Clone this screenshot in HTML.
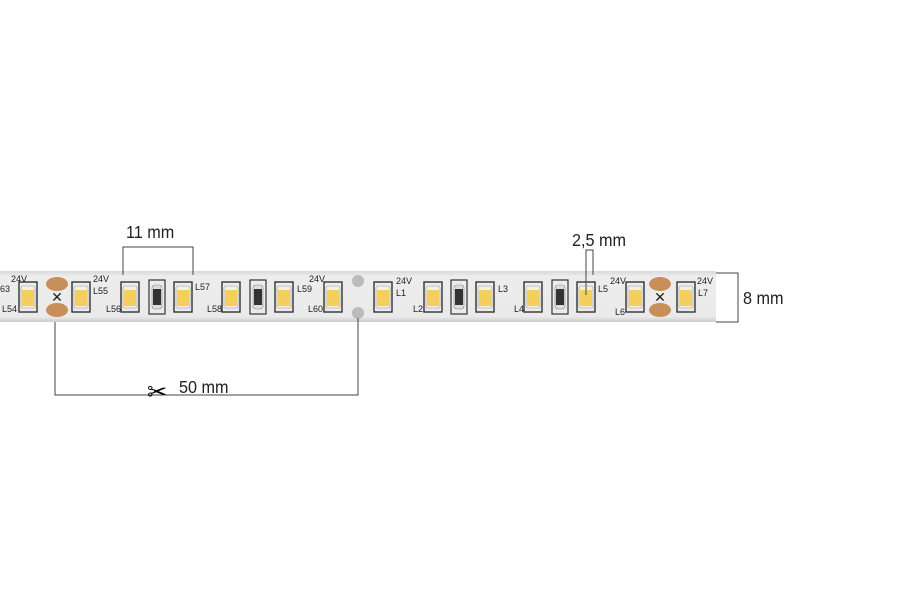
<!DOCTYPE html>
<html><head><style>body{margin:0;background:#fff}svg{display:block}</style></head><body>
<svg width="899" height="600" viewBox="0 0 899 600" xmlns="http://www.w3.org/2000/svg" font-family="Liberation Sans, sans-serif">
<defs>
<linearGradient id="st" x1="0" y1="0" x2="0" y2="1"><stop offset="0" stop-color="#d8d8d8"/><stop offset="0.1" stop-color="#ededed"/><stop offset="0.9" stop-color="#eaeaea"/><stop offset="1" stop-color="#cbcbcb"/></linearGradient>
<g id="led"><rect x="-9" y="-15" width="18" height="30" fill="none" stroke="#333" stroke-width="1.4"/><rect x="-7" y="-11" width="14" height="22" rx="2" fill="#f3efe6" stroke="#999" stroke-width="0.6"/><rect x="-6" y="-7" width="12" height="16" fill="#f5cf5e"/></g>
<g id="res"><rect x="-8" y="-17" width="16" height="34" fill="none" stroke="#333" stroke-width="1.2"/><rect x="-5" y="-12" width="10" height="24" rx="3" fill="#ddd" stroke="#888" stroke-width="0.6"/><rect x="-4" y="-8" width="8" height="16" fill="#333"/></g>
<g id="cut"><ellipse cx="0" cy="-13" rx="11" ry="7" fill="#c98f5a"/><ellipse cx="0" cy="13" rx="11" ry="7" fill="#c98f5a"/><text x="0" y="5" font-size="14" text-anchor="middle" fill="#222">✕</text></g>
</defs>
<rect x="0" y="271" width="716" height="51" fill="url(#st)"/>
<g font-size="9" fill="#222">
<use href="#led" x="28" y="297"/><use href="#cut" x="57" y="297"/><use href="#led" x="81" y="297"/>
<use href="#led" x="130" y="297"/><use href="#res" x="157" y="297"/><use href="#led" x="183" y="297"/>
<use href="#led" x="231" y="297"/><use href="#res" x="258" y="297"/><use href="#led" x="284" y="297"/>
<use href="#led" x="333" y="297"/>
<circle cx="358" cy="281" r="6" fill="#bbb"/><circle cx="358" cy="313" r="6" fill="#bbb"/>
<use href="#led" x="383" y="297"/>
<use href="#led" x="433" y="297"/><use href="#res" x="459" y="297"/><use href="#led" x="485" y="297"/>
<use href="#led" x="533" y="297"/><use href="#res" x="560" y="297"/><use href="#led" x="586" y="297"/>
<use href="#led" x="635" y="297"/><use href="#cut" x="660" y="297"/><use href="#led" x="686" y="297"/>
<text x="0" y="292">63</text><text x="11" y="282">24V</text><text x="2" y="312">L54</text>
<text x="93" y="282">24V</text><text x="93" y="294">L55</text>
<text x="106" y="312">L56</text><text x="195" y="290">L57</text>
<text x="207" y="312">L58</text><text x="297" y="292">L59</text>
<text x="309" y="282">24V</text><text x="308" y="312">L60</text>
<text x="396" y="284">24V</text><text x="396" y="296">L1</text>
<text x="413" y="312">L2</text><text x="498" y="292">L3</text>
<text x="514" y="312">L4</text><text x="598" y="292">L5</text>
<text x="610" y="284">24V</text><text x="615" y="315">L6</text>
<text x="697" y="284">24V</text><text x="698" y="296">L7</text>
</g>
<g stroke="#444" stroke-width="1" fill="none">
<polyline points="123,275 123,247 193,247 193,275"/>
<polyline points="586,295 586,250 593,250 593,275"/>
<polyline points="55,322 55,395 358,395 358,318"/>
<polyline points="716,273 738,273 738,322 716,322"/>
</g>
<g fill="#222" font-size="18">
<text x="126" y="238" transform="translate(126 0) scale(0.9 1) translate(-126 0)">11 mm</text>
<text x="572" y="246" transform="translate(572 0) scale(0.9 1) translate(-572 0)">2,5 mm</text>
<text x="743" y="304" transform="translate(743 0) scale(0.9 1) translate(-743 0)">8 mm</text>
<text x="179" y="393" transform="translate(179 0) scale(0.9 1) translate(-179 0)">50 mm</text>
<text x="147" y="400" font-size="24" font-family="DejaVu Sans, sans-serif" fill="#000">✂</text>
</g>
</svg>
</body></html>
